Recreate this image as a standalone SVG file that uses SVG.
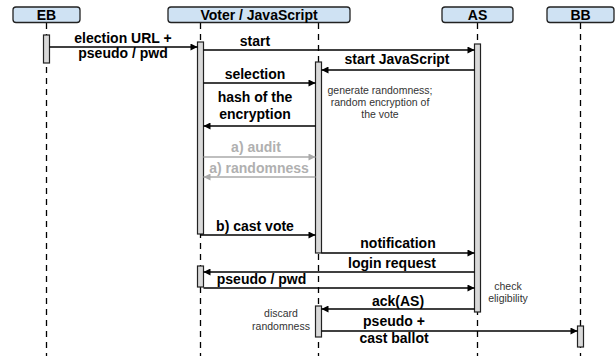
<svg xmlns="http://www.w3.org/2000/svg" width="615" height="356" viewBox="0 0 615 356">
<defs>
<marker id="ah" viewBox="0 0 10 10" refX="10" refY="5" markerWidth="8" markerHeight="7" markerUnits="userSpaceOnUse" orient="auto"><path d="M0,0 L10,5 L0,10 z" fill="#000"/></marker>
<marker id="ahg" viewBox="0 0 10 10" refX="10" refY="5" markerWidth="8" markerHeight="7" markerUnits="userSpaceOnUse" orient="auto"><path d="M0,0 L10,5 L0,10 z" fill="#aaaaaa"/></marker>
<style>
.hdr{fill:#cfe2f3;stroke:#222;stroke-width:1.3}
.ht{font-family:"Liberation Sans",Arial,sans-serif;font-weight:bold;font-size:14px;fill:#000;text-anchor:middle}
.life{stroke:#000;stroke-width:1.3;stroke-dasharray:6 5;fill:none}
.act{fill:#d9d9d9;stroke:#222;stroke-width:1.2}
.msg{stroke:#000;stroke-width:1.3;fill:none;marker-end:url(#ah)}
.gmsg{stroke:#aaaaaa;stroke-width:1.3;fill:none;marker-end:url(#ahg)}
.mt{font-family:"Liberation Sans",Arial,sans-serif;font-weight:bold;font-size:14px;fill:#000;text-anchor:middle}
.gt{font-family:"Liberation Sans",Arial,sans-serif;font-weight:bold;font-size:14px;fill:#b0b0b0;text-anchor:middle}
.nt{font-family:"Liberation Sans",Arial,sans-serif;font-size:10.5px;fill:#333;text-anchor:middle}
</style>
</defs>
<rect width="615" height="356" fill="#fff"/>
<g id="EB">
<line class="life" x1="46.5" y1="23" x2="46.5" y2="356"/>
<rect class="hdr" x="13" y="7" width="67" height="15.5" rx="3"/>
<text class="ht" x="46.5" y="20">EB</text>
<rect class="act" x="43.5" y="35" width="6" height="28"/>
</g>
<g id="Voter">
<line class="life" x1="200.5" y1="23" x2="200.5" y2="356"/>
<line class="life" x1="318.5" y1="23" x2="318.5" y2="356"/>
<rect class="hdr" x="168" y="7" width="182" height="15.5" rx="3"/>
<text class="ht" x="259" y="20">Voter / JavaScript</text>
<rect class="act" x="197.5" y="42" width="6" height="192"/>
<rect class="act" x="315.5" y="62" width="6" height="191"/>
<rect class="act" x="197.5" y="266" width="6" height="21"/>
<rect class="act" x="315.5" y="306" width="6" height="31"/>
</g>
<g id="AS">
<line class="life" x1="477.5" y1="23" x2="477.5" y2="356"/>
<rect class="hdr" x="442" y="7" width="71" height="15.5" rx="3"/>
<text class="ht" x="477.5" y="20">AS</text>
<rect class="act" x="474.5" y="44" width="6" height="268"/>
</g>
<g id="BB">
<line class="life" x1="580.5" y1="23" x2="580.5" y2="356"/>
<rect class="hdr" x="547" y="7" width="67" height="15.5" rx="3"/>
<text class="ht" x="580.5" y="20">BB</text>
<rect class="act" x="577.5" y="326" width="6" height="21"/>
</g>
<g id="connectors">
<line class="msg" x1="49.5" y1="47" x2="197.5" y2="47"/>
<line class="msg" x1="203.5" y1="50" x2="474.5" y2="50"/>
<line class="msg" x1="474.5" y1="70" x2="321.5" y2="70"/>
<line class="msg" x1="203.5" y1="83" x2="315.5" y2="83"/>
<line class="msg" x1="315.5" y1="126" x2="203.5" y2="126"/>
<line class="gmsg" x1="203.5" y1="157" x2="315.5" y2="157"/>
<line class="gmsg" x1="315.5" y1="177" x2="203.5" y2="177"/>
<line class="msg" x1="200.5" y1="235" x2="315.5" y2="235"/>
<line class="msg" x1="321.5" y1="253" x2="474.5" y2="253"/>
<line class="msg" x1="474.5" y1="272" x2="203.5" y2="272"/>
<line class="msg" x1="203.5" y1="288" x2="474.5" y2="288"/>
<line class="msg" x1="474.5" y1="309" x2="321.5" y2="309"/>
<line class="msg" x1="321.5" y1="331" x2="577.5" y2="331"/>
</g>
<g id="labels">
<text class="mt" x="123" y="43">election URL +</text>
<text class="mt" x="123" y="57.5">pseudo / pwd</text>
<text class="mt" x="255" y="46">start</text>
<text class="mt" x="397" y="64">start JavaScript</text>
<text class="mt" x="255" y="79">selection</text>
<text class="mt" x="255" y="102">hash of the</text>
<text class="mt" x="255" y="119">encryption</text>
<text class="gt" x="256" y="152">a) audit</text>
<text class="gt" x="259" y="173">a) randomness</text>
<text class="mt" x="255" y="231">b) cast vote</text>
<text class="mt" x="398" y="248">notification</text>
<text class="mt" x="392" y="268">login request</text>
<text class="mt" x="261.5" y="284">pseudo / pwd</text>
<text class="mt" x="398" y="306">ack(AS)</text>
<text class="mt" x="394" y="326">pseudo +</text>
<text class="mt" x="394" y="343">cast ballot</text>
<text class="nt" x="380" y="94">generate randomness;</text>
<text class="nt" x="380" y="106">random encryption of</text>
<text class="nt" x="380" y="117.5">the vote</text>
<text class="nt" x="508" y="290">check</text>
<text class="nt" x="508" y="302">eligibility</text>
<text class="nt" x="281" y="317">discard</text>
<text class="nt" x="281" y="330">randomness</text>
</g>
</svg>
